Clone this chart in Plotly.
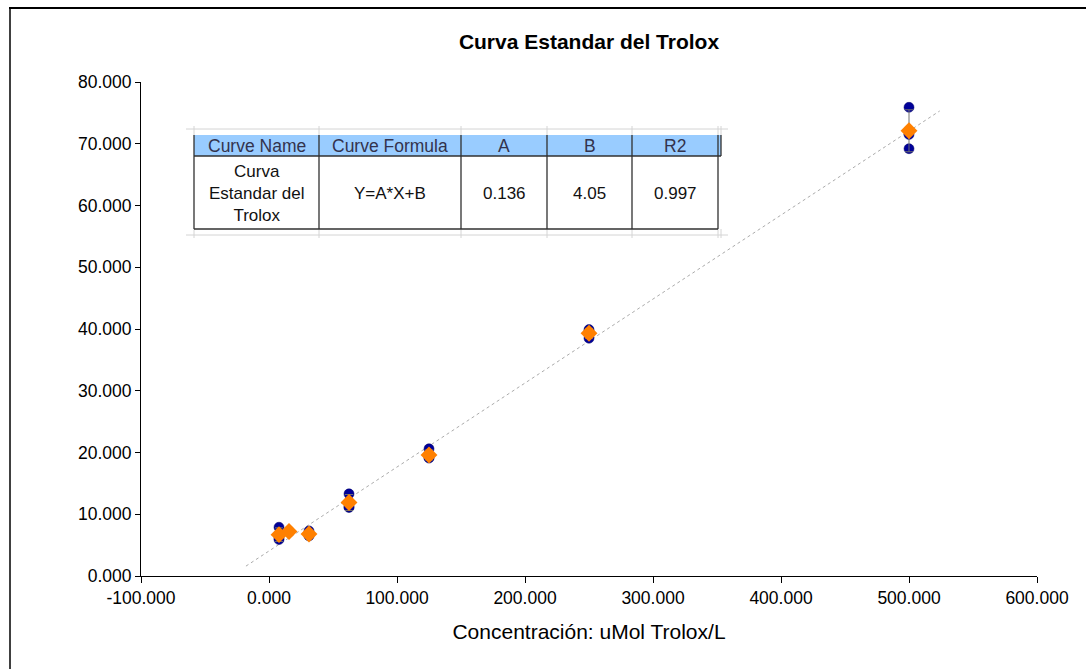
import plotly.graph_objects as go

# Trolox standard concentrations (uMol/L) and replicate readings
conc = [7.8125, 15.625, 31.25, 62.5, 125, 250, 500]
rep1 = [7.9, 7.3, 7.3, 13.3, 20.6, 39.9, 75.9]
rep2 = [6.2, 7.2, 6.6, 11.1, 19.2, 38.5, 71.5]
rep3 = [5.9, 7.1, 6.5, 11.2, 19.1, 39.6, 69.2]

# Mean of replicates with error bars
mean_val = [6.7, 7.2, 6.8, 11.9, 19.6, 39.3, 72.1]
err_val = [1.1, 0.1, 0.4, 1.3, 0.8, 0.8, 3.4]

# Linear fit Y = A*X + B
A = 0.136
B = 4.05
R2 = 0.997
fit_x = [-18, 524]

# Fit summary table
table_headers = ["Curve Name", "Curve Formula", "A", "B", "R2"]
table_row = ["Curva<br>Estandar del<br>Trolox", "Y=A*X+B", f"{A:.3f}", f"{B:.2f}", f"{R2:.3f}"]

x_ticks = [-100, 0, 100, 200, 300, 400, 500, 600]
y_ticks = [0, 10, 20, 30, 40, 50, 60, 70, 80]

FONT = "Liberation Sans, Arial, sans-serif"
W, H = 1086, 669
L, R, T, Bm = 141, 49, 82, 93
PW, PH = W - L - R, H - T - Bm


def px(x):
    return (x - L) / PW


def py(y):
    return (H - Bm - y) / PH


fig = go.Figure()

fig.add_trace(go.Scatter(
    x=fit_x, y=[A * v + B for v in fit_x], mode="lines",
    line=dict(color="#ababab", width=1, dash="dot"),
    showlegend=False, hoverinfo="skip"))

fig.add_trace(go.Scatter(
    x=conc * 3, y=rep1 + rep2 + rep3, mode="markers",
    marker=dict(symbol="circle", size=10, color="#000099",
                line=dict(color="#000066", width=0.5)),
    showlegend=False))

fig.add_trace(go.Scatter(
    x=conc, y=mean_val, mode="markers",
    marker=dict(symbol="diamond", size=13, color="#FF8000",
                line=dict(width=0)),
    error_y=dict(type="data", array=err_val, visible=True,
                 color="#707070", thickness=1, width=4),
    showlegend=False))

shapes = []
annotations = []

# Table geometry in pixels
col_edges = [194, 319, 461, 547, 632, 718]
top, mid, bot = 135, 156, 229

# faint spreadsheet grid around the table
grid = "#d4d4d4"
for yy in (129, 235):
    shapes.append(dict(type="line", xref="paper", yref="paper",
                       x0=px(186), x1=px(728), y0=py(yy), y1=py(yy),
                       line=dict(color=grid, width=1)))
for xx in col_edges + [721]:
    shapes.append(dict(type="line", xref="paper", yref="paper",
                       x0=px(xx), x1=px(xx), y0=py(126), y1=py(top),
                       line=dict(color=grid, width=1)))
    shapes.append(dict(type="line", xref="paper", yref="paper",
                       x0=px(xx), x1=px(xx), y0=py(bot), y1=py(238),
                       line=dict(color=grid, width=1)))

# header fill
shapes.append(dict(type="rect", xref="paper", yref="paper",
                   x0=px(col_edges[0]), x1=px(721), y0=py(mid), y1=py(top),
                   fillcolor="#99CCFF", line=dict(width=0)))
# body fill
shapes.append(dict(type="rect", xref="paper", yref="paper",
                   x0=px(col_edges[0]), x1=px(col_edges[-1]), y0=py(bot), y1=py(mid),
                   fillcolor="white", line=dict(width=0)))

edge = "#303030"
# vertical borders
for xx in col_edges:
    shapes.append(dict(type="line", xref="paper", yref="paper",
                       x0=px(xx), x1=px(xx), y0=py(bot), y1=py(top),
                       line=dict(color=edge, width=1.3)))
shapes.append(dict(type="line", xref="paper", yref="paper",
                   x0=px(721), x1=px(721), y0=py(mid), y1=py(top),
                   line=dict(color=edge, width=1.3)))
# horizontal borders
shapes.append(dict(type="line", xref="paper", yref="paper",
                   x0=px(col_edges[0]), x1=px(721), y0=py(mid), y1=py(mid),
                   line=dict(color=edge, width=1.5)))
shapes.append(dict(type="line", xref="paper", yref="paper",
                   x0=px(col_edges[0]), x1=px(col_edges[-1]), y0=py(bot), y1=py(bot),
                   line=dict(color=edge, width=1.5)))

for i in range(len(table_headers)):
    cx = (col_edges[i] + col_edges[i + 1]) / 2
    annotations.append(dict(xref="paper", yref="paper", x=px(cx), y=py((top + mid) / 2),
                            text=table_headers[i], showarrow=False,
                            xanchor="center", yanchor="middle",
                            font=dict(family=FONT, size=17.5, color="#33334d")))
    annotations.append(dict(xref="paper", yref="paper", x=px(cx), y=py((mid + bot) / 2 + 1),
                            text=table_row[i], showarrow=False,
                            xanchor="center", yanchor="middle", align="center",
                            font=dict(family=FONT, size=17, color="#111111")))

# outer chart frame
shapes.append(dict(type="line", xref="paper", yref="paper",
                   x0=px(9), x1=px(W + 5), y0=py(8), y1=py(8),
                   line=dict(color="black", width=2)))
shapes.append(dict(type="line", xref="paper", yref="paper",
                   x0=px(10), x1=px(10), y0=py(8), y1=py(H + 5),
                   line=dict(color="black", width=1.5)))

fig.update_layout(
    width=W, height=H,
    margin=dict(l=L, r=R, t=T, b=Bm),
    paper_bgcolor="white", plot_bgcolor="white",
    title=dict(text="<b>Curva Estandar del Trolox</b>", x=0.5, xref="paper",
               y=1 - 42 / H, yref="container", xanchor="center", yanchor="middle",
               font=dict(family=FONT, size=21, color="black")),
    xaxis=dict(range=[-100, 600], tickvals=x_ticks,
               ticktext=[f"{v:.3f}" for v in x_ticks],
               showgrid=False, zeroline=False, showline=True, linecolor="black",
               linewidth=1, ticks="outside", ticklen=6, tickcolor="black",
               tickfont=dict(family=FONT, size=17.5, color="black"),
               title=dict(text="Concentración: uMol Trolox/L", standoff=17,
                          font=dict(family=FONT, size=21, color="black"))),
    yaxis=dict(range=[0, 80], tickvals=y_ticks,
               ticktext=[f"{v:.3f}" for v in y_ticks],
               showgrid=False, zeroline=False, showline=True, linecolor="black",
               linewidth=1, ticks="outside", ticklen=5, tickcolor="black",
               tickfont=dict(family=FONT, size=17.5, color="black")),
    shapes=shapes,
    annotations=annotations,
    showlegend=False,
)

fig.write_html("out.html")
